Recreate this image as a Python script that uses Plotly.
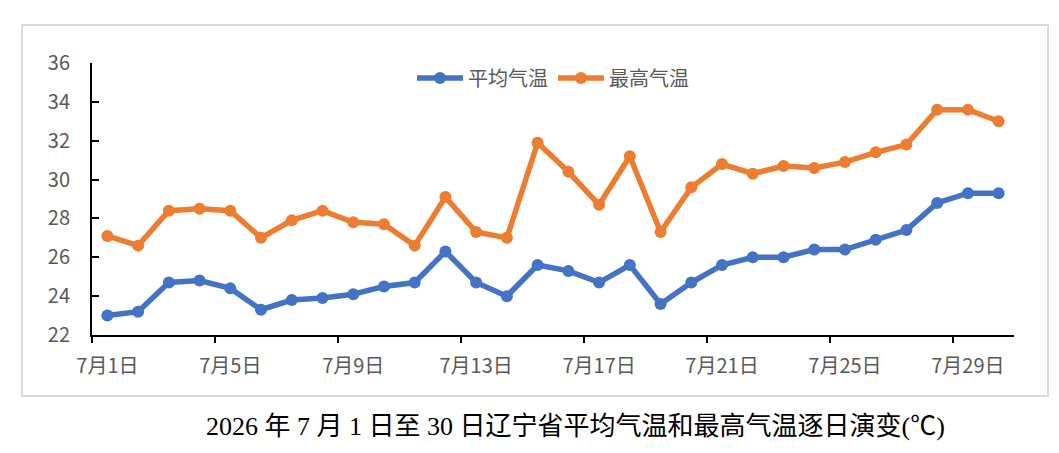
import plotly.graph_objects as go

# %%

DAYS = list(range(1, 31))
DAY_LABELS = [f"7月{d}日" for d in DAYS]

AVG_TEMP = [23.0, 23.2, 24.7, 24.8, 24.4, 23.3, 23.8, 23.9, 24.1, 24.5,
            24.7, 26.3, 24.7, 24.0, 25.6, 25.3, 24.7, 25.6, 23.6, 24.7,
            25.6, 26.0, 26.0, 26.4, 26.4, 26.9, 27.4, 28.8, 29.3, 29.3]

MAX_TEMP = [27.1, 26.6, 28.4, 28.5, 28.4, 27.0, 27.9, 28.4, 27.8, 27.7,
            26.6, 29.1, 27.3, 27.0, 31.9, 30.4, 28.7, 31.2, 27.3, 29.6,
            30.8, 30.3, 30.7, 30.6, 30.9, 31.4, 31.8, 33.6, 33.6, 33.0]

Y_TICKS = [22, 24, 26, 28, 30, 32, 34, 36]

CAPTION = "2026 年 7 月 1 日至 30 日辽宁省平均气温和最高气温逐日演变(℃)"

# %%

BLUE = "#4472C4"
ORANGE = "#ED7D31"
GREY = "#595959"

# the html page has an 8px body margin, so screen pixels are shifted by that
OFF = 8
W, H = 1059 - OFF, 453 - OFF
# plot area in screen pixels
PLOT_L, PLOT_R, PLOT_T, PLOT_B = 92, 1014, 63, 335


def px_x(px):
    return (px - PLOT_L) / (PLOT_R - PLOT_L)


def px_y(px):
    return (PLOT_B - px) / (PLOT_B - PLOT_T)


fig = go.Figure()

for name, values, color in [("平均气温", AVG_TEMP, BLUE), ("最高气温", MAX_TEMP, ORANGE)]:
    fig.add_trace(
        go.Scatter(
            x=DAYS,
            y=values,
            mode="lines+markers",
            name=name,
            line=dict(color=color, width=5.5),
            marker=dict(color=color, size=12),
        )
    )

# light grey chart border
fig.add_shape(
    type="rect",
    xref="paper", yref="paper",
    x0=px_x(22), x1=px_x(1048),
    y0=px_y(396), y1=px_y(25),
    line=dict(color="#D9D9D9", width=2),
    layer="below",
)

fig.add_annotation(
    text=CAPTION,
    xref="paper", yref="paper",
    x=px_x(575), y=px_y(426),
    xanchor="center", yanchor="middle",
    showarrow=False,
    font=dict(family="Liberation Serif, Noto Sans CJK SC", size=26, color="black"),
)

fig.update_xaxes(
    range=[0.5, 30.5],
    tickmode="array",
    tickvals=DAYS[::4],
    ticktext=DAY_LABELS[::4],
    ticks="",
    ticklabelstandoff=12,
    minor=dict(
        tickmode="array",
        tickvals=[0.5 + 4 * i for i in range(8)],
        ticks="outside",
        ticklen=6,
        tickwidth=2,
        tickcolor="black",
        showgrid=False,
    ),
    showline=True,
    linecolor="black",
    linewidth=2,
    showgrid=False,
    zeroline=False,
    tickfont=dict(size=20, color=GREY),
)

fig.update_yaxes(
    range=[22, 36],
    tickmode="array",
    tickvals=Y_TICKS,
    ticks="inside",
    ticklen=7,
    tickwidth=2,
    tickcolor="black",
    ticklabelstandoff=16,
    showline=True,
    linecolor="black",
    linewidth=2,
    showgrid=False,
    zeroline=False,
    tickfont=dict(size=20, color=GREY),
)

fig.update_layout(
    width=W,
    height=H,
    margin=dict(l=PLOT_L - OFF, r=W + OFF - PLOT_R, t=PLOT_T - OFF, b=H + OFF - PLOT_B),
    plot_bgcolor="white",
    paper_bgcolor="white",
    font=dict(family="Noto Sans CJK SC", color=GREY),
    legend=dict(
        orientation="h",
        x=0.5, xanchor="center",
        y=px_y(78), yanchor="middle",
        font=dict(size=20, color=GREY),
        bgcolor="rgba(0,0,0,0)",
        itemwidth=46,
    ),
)

fig.write_html("out.html")
